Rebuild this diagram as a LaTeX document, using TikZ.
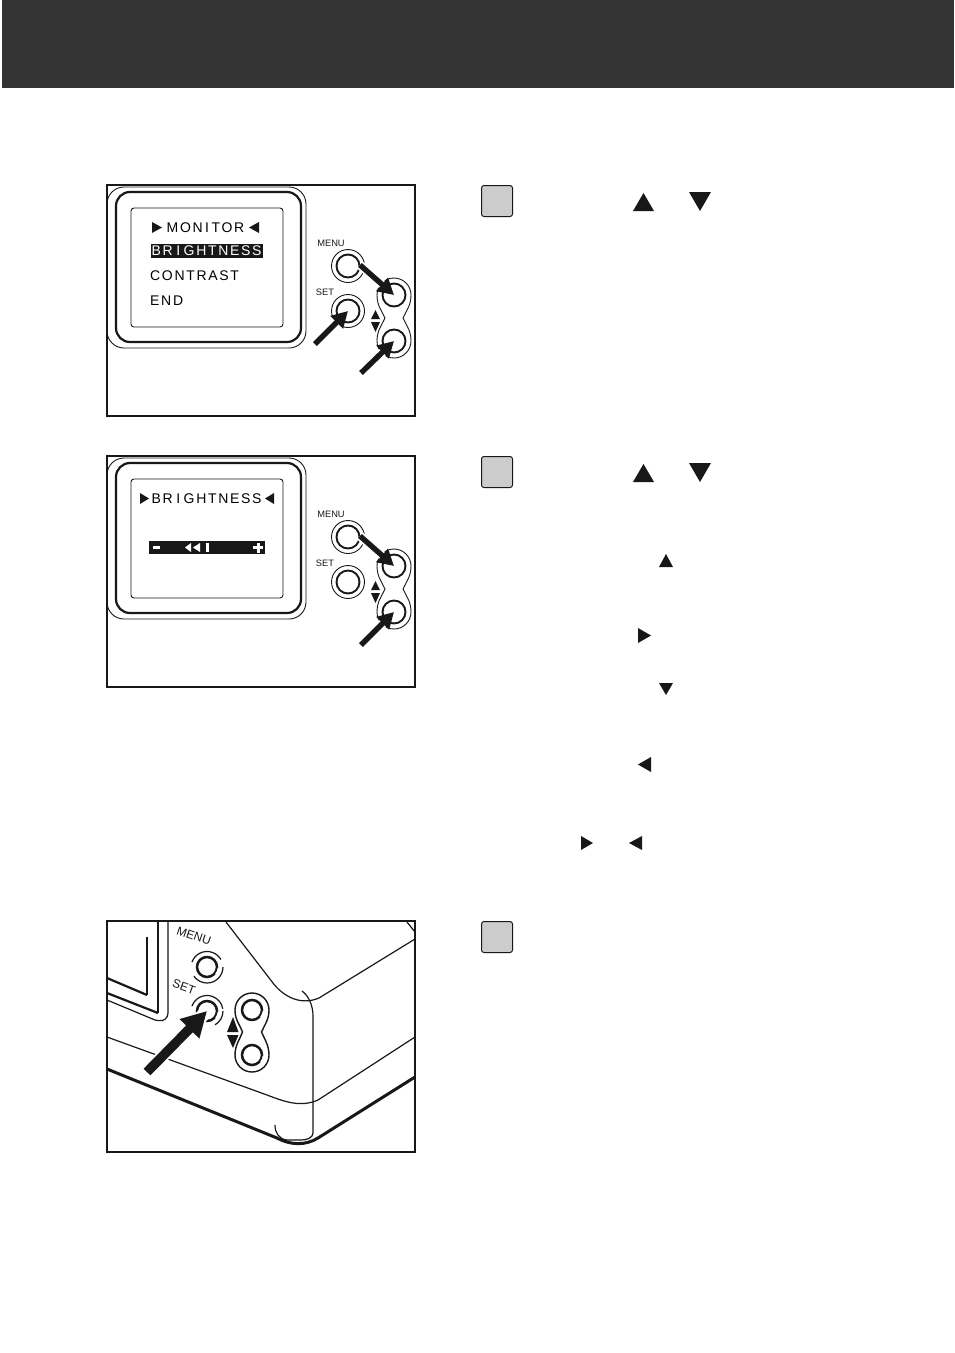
\documentclass[tikz,border=0pt]{standalone}
\usepackage{fontspec}
\usepackage{xcolor}
\usetikzlibrary{arrows.meta}
\setmainfont{Liberation Sans}
\newfontfamily\lcdfont[LetterSpace=12]{Liberation Sans}
\definecolor{banner}{HTML}{333333}
\definecolor{inkblack}{HTML}{1A1718}
\definecolor{stepgray}{HTML}{CCCCCC}

\begin{document}
\begin{tikzpicture}[
  x=1pt, y=-1pt,
  panel/.style={draw=inkblack,line width=1.3pt},
  stepbox/.style={draw=inkblack,fill=stepgray,line width=1pt,rounded corners=2.5pt},
  btnface/.style={circle,draw=inkblack,line width=1.9pt,minimum size=23pt,inner sep=0pt},
  btnring/.style={circle,draw=inkblack,line width=.9pt,minimum size=33pt,inner sep=0pt},
  topface/.style={circle,draw=inkblack,line width=2.5pt,minimum size=20pt,inner sep=0pt},
  thinline/.style={draw=inkblack,line width=1.2pt},
  thickline/.style={draw=inkblack,line width=2.2pt},
  heavyline/.style={draw=inkblack,line width=3pt},
  solidtri/.style={fill=inkblack},
  lcd/.style={anchor=west,inner sep=0pt,font=\lcdfont\fontsize{14}{14}\selectfont},
  tag/.style={inner sep=0pt,text=inkblack,font=\fontsize{9.3}{9.3}\selectfont},
  toptag/.style={inner sep=0pt,text=inkblack,font=\fontsize{12}{12}\selectfont},
  pressarrow/.style={draw=inkblack,line width=5.4pt,-{Triangle[length=16pt,width=17pt]},
    preaction={draw=white,line width=9pt,-}}
]
  \useasboundingbox (0,0) rectangle (954,1353);
  \fill[white] (0,0) rectangle (954,1353);
  \fill[banner] (2,0) rectangle (954,88);

  % the two camera backs
  \foreach \py/\pn in {0/one,271/two}{
    \begin{scope}[yshift=-\py pt]
      \draw[inkblack,line width=.9pt,rounded corners=17pt] (107,187) rectangle (306,348);
      \draw[inkblack,line width=2.2pt,rounded corners=14pt] (116,192) rectangle (301,342);
      \draw[inkblack,line width=.9pt,rounded corners=3pt] (131,208) rectangle (283,327);
      \node[btnface] (menu\pn) at (348,266) {};
      \node[btnring] at (348,266) {};
      \node[btnface] (set\pn) at (348,311) {};
      \node[btnring] at (348,311) {};
      \node[btnface] (up\pn) at (394,295) {};
      \node[btnface] (down\pn) at (394,341) {};
      \draw[inkblack,line width=.9pt] (385,318) .. controls (382,311) and (377,306) .. (377,295)
        arc[start angle=180,end angle=360,radius=17]
        .. controls (411,306) and (406,311) .. (403,318)
        .. controls (406,325) and (411,330) .. (411,341)
        arc[start angle=0,end angle=180,radius=17]
        .. controls (377,330) and (382,325) .. (385,318);
      \node[tag] (menutag\pn) at (331,243) {MENU};
      \node[tag] (settag\pn) at (325,292) {SET};
      \fill[solidtri] (371,319) -- (375.5,310) -- (380,319) -- cycle;
      \fill[solidtri] (371,322) -- (375.5,332) -- (380,322) -- cycle;
      \draw[panel] (107,185) rectangle (415,416);
    \end{scope}
  }

  % screen one
  \fill[solidtri] (152,222) -- (162,227.5) -- (152,233) -- cycle;
  \fill[solidtri] (259,222) -- (249,227.5) -- (259,233) -- cycle;
  \node[lcd] (monitor) at (166.5,227.5) {MON\kern2.5pt I\kern2.5pt TOR};
  \fill[solidtri] (151,244) rectangle (263,257.5);
  \node[lcd,text=white] (brightness) at (151.5,251) {BR\kern3.5pt I\kern3.5pt GHTNESS};
  \node[lcd] (contrast) at (150,276) {CONTRAST};
  \node[lcd] (end) at (150,301) {END};
  \coordinate (aone) at (360,265);
  \coordinate (bone) at (315,344);
  \coordinate (cone) at (361,373);
  \draw[pressarrow] (aone) -- (upone.center);
  \draw[pressarrow] (bone) -- (setone.center);
  \draw[pressarrow] (cone) -- (downone.center);

  % screen two
  \fill[solidtri] (140,493) -- (149,498.5) -- (140,504) -- cycle;
  \fill[solidtri] (274,493) -- (265,498.5) -- (274,504) -- cycle;
  \node[lcd] (brightnesstwo) at (151.5,498.5) {BR\kern3.5pt I\kern3.5pt GHTNESS};
  \fill[solidtri] (149,541) rectangle (265,554);
  \fill[white] (153,546) rectangle (160,548.5);
  \fill[white] (253,546) rectangle (263,549);
  \fill[white] (256.5,542.5) rectangle (259.5,552.5);
  \fill[white] (191,543) -- (185,547.5) -- (191,552) -- cycle;
  \fill[white] (200,543) -- (193,547.5) -- (200,552) -- cycle;
  \fill[white] (206,543) rectangle (209,552);
  \coordinate (atwo) at (360,536);
  \coordinate (ctwo) at (361,645);
  \draw[pressarrow] (atwo) -- (uptwo.center);
  \draw[pressarrow] (ctwo) -- (downtwo.center);

  % camera seen from above
  \draw[thinline] (147,937) -- (147,995);
  \draw[thickline] (147,995) -- (107,978);
  \draw[thinline] (158,922) -- (158,1013);
  \draw[thickline] (158,1013) -- (107,993);
  \draw[thinline,rounded corners=9pt] (168,922) -- (168,1022) -- (155,1020);
  \draw[thinline] (155,1020) -- (107,1000);
  \draw[thinline] (226,922) -- (273,983) .. controls (283,996) and (300,1006) .. (319,998) -- (415,939);
  \draw[thinline] (407,922) -- (415,932);
  \draw[thinline] (302,991) .. controls (309,996) and (313,1006) .. (313,1016) -- (313,1132)
    .. controls (313,1139) and (306,1140) .. (300,1140);
  \draw[thinline] (275,1125) .. controls (275,1133) and (279,1139) .. (287,1140) -- (300,1140);
  \draw[thinline] (107,1037) -- (267,1095) .. controls (283,1101) and (300,1108) .. (318,1100) -- (415,1037);
  \draw[heavyline] (107,1069) -- (277,1138) .. controls (290,1145) and (305,1146) .. (318,1138) -- (415,1077);

  \node[topface] (menuthree) at (207,967) {};
  \node[topface] (setthree) at (207,1011) {};
  \node[topface] (upthree) at (252,1010) {};
  \node[topface] (downthree) at (252,1055) {};
  \foreach \bn in {menuthree,setthree,upthree,downthree}
    \draw[white,line width=1.1pt] (\bn.-5) arc[start angle=5,end angle=40,radius=11];
  \draw[inkblack,line width=1.2pt] (223,967) arc[start angle=0,end angle=145,radius=16];
  \draw[inkblack,line width=1.2pt] (192,962) arc[start angle=200,end angle=330,radius=16];
  \draw[inkblack,line width=1.2pt] (223,1011) arc[start angle=0,end angle=60,radius=16];
  \draw[inkblack,line width=1.2pt] (192,1006) arc[start angle=200,end angle=350,radius=16];
  \draw[inkblack,line width=1.4pt] (242.5,1032) .. controls (240,1025) and (235,1020) .. (235,1010)
    arc[start angle=180,end angle=360,radius=17]
    .. controls (269,1020) and (264,1026) .. (261.5,1032)
    .. controls (264,1038) and (269,1045) .. (269,1055)
    arc[start angle=0,end angle=180,radius=17]
    .. controls (235,1045) and (240,1039) .. (242.5,1032);
  \node[toptag,rotate=-19] (menutagthree) at (194,936) {MENU};
  \node[toptag,rotate=-20] (settagthree) at (184,987) {SET};
  \fill[solidtri] (233,1017) -- (238.5,1032) -- (227,1032) -- cycle;
  \fill[solidtri] (227,1035) -- (238.5,1035) -- (233,1048) -- cycle;
  \coordinate (athree) at (147,1072);
  \draw[inkblack,line width=9.5pt,-{Triangle[length=25pt,width=26pt]},preaction={draw=white,line width=13pt,-}]
    (athree) -- (setthree.center);
  \draw[panel] (107,921) rectangle (415,1152);

  % step boxes and the triangles beside them
  \foreach \sy/\sn in {185/a,456/b,921/c}
    \node[stepbox,minimum size=31pt,inner sep=0pt,anchor=north west] (step\sn) at (481,\sy) {};
  \foreach \ty in {0,271}{
    \fill[solidtri] (633,211+\ty) -- (643.5,193+\ty) -- (654,211+\ty) -- cycle;
    \fill[solidtri] (689,192+\ty) -- (700,211+\ty) -- (711,192+\ty) -- cycle;
  }
  \fill[solidtri] (659,567) -- (666,554) -- (673,567) -- cycle;
  \fill[solidtri] (638,628) -- (651,635.5) -- (638,643) -- cycle;
  \fill[solidtri] (659,683) -- (666,695) -- (673,683) -- cycle;
  \fill[solidtri] (651,757) -- (638,764.5) -- (651,772) -- cycle;
  \fill[solidtri] (581,836) -- (593,843) -- (581,850) -- cycle;
  \fill[solidtri] (642,836) -- (629,843) -- (642,850) -- cycle;
\end{tikzpicture}
\end{document}
